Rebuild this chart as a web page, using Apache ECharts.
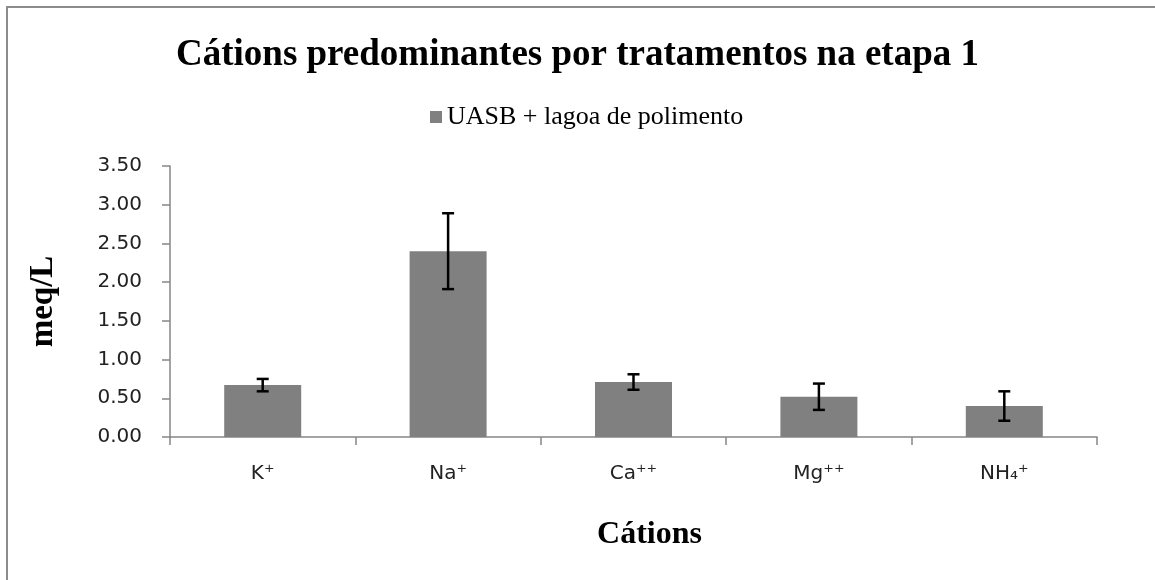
<!DOCTYPE html>
<html>
<head>
<meta charset="utf-8">
<script src="https://cdn.jsdelivr.net/npm/echarts@6/dist/echarts.min.js"></script>
<style>
  html, body { margin: 0; padding: 0; background: #fff; }
  #chart { width: 1155px; height: 580px; }
</style>
</head>
<body>
<div id="chart"></div>
<script>
// cations on the x axis
const cations = ['K⁺', 'Na⁺', 'Ca⁺⁺', 'Mg⁺⁺', 'NH₄⁺']
// mean values (meq/L)
const meanValues = [0.67, 2.40, 0.71, 0.52, 0.40]
// half length of the error bars
const errValues = [0.08, 0.49, 0.10, 0.17, 0.19]
const seriesName = 'UASB + lagoa de polimento'

const chart = echarts.init(document.getElementById('chart'))

// error bar data: [index, low, high]
const errData = meanValues.map((v, i) => [i, v - errValues[i], v + errValues[i]])

chart.setOption({
  animation: false,
  backgroundColor: '#fff',
  graphic: [
    {
      type: 'rect',
      shape: { x: 7, y: 7, width: 1200, height: 620 },
      style: { fill: 'none', stroke: '#8c8c8c', lineWidth: 2 },
      silent: true
    }
  ],
  title: {
    text: 'Cátions predominantes por tratamentos na etapa 1',
    left: 'center',
    top: 32,
    textStyle: {
      fontFamily: 'Liberation Serif',
      fontWeight: 'bold',
      fontSize: 37,
      color: '#000'
    }
  },
  legend: {
    data: [seriesName],
    left: 425,
    top: 99,
    icon: 'rect',
    itemWidth: 12,
    itemHeight: 12,
    itemGap: 6,
    textStyle: {
      fontFamily: 'Liberation Serif',
      fontSize: 26,
      color: '#000'
    }
  },
  grid: {
    left: 170,
    right: 58,
    top: 166,
    bottom: 143
  },
  xAxis: {
    type: 'category',
    data: cations,
    name: 'Cátions',
    nameLocation: 'middle',
    nameGap: 82,
    nameTextStyle: {
      fontFamily: 'Liberation Serif',
      fontWeight: 'bold',
      fontSize: 32,
      color: '#000',
      padding: [0, 0, 0, 32]
    },
    axisLine: { lineStyle: { color: '#868686', width: 1.5 } },
    axisTick: { show: true, length: 8, lineStyle: { color: '#868686', width: 1.5 } },
    axisLabel: {
      margin: 27,
      fontFamily: 'DejaVu Sans',
      fontSize: 20,
      color: '#222'
    }
  },
  yAxis: {
    type: 'value',
    min: 0,
    max: 3.5,
    interval: 0.5,
    name: 'meq/L',
    nameLocation: 'middle',
    nameGap: 110,
    nameRotate: 90,
    nameTextStyle: {
      fontFamily: 'Liberation Serif',
      fontWeight: 'bold',
      fontSize: 33,
      color: '#000'
    },
    splitLine: { show: false },
    axisLine: { show: true, lineStyle: { color: '#868686', width: 1.5 } },
    axisTick: { show: true, length: 8, lineStyle: { color: '#868686', width: 1.5 } },
    axisLabel: {
      margin: 28,
      fontFamily: 'DejaVu Sans',
      fontSize: 20,
      color: '#222',
      formatter: v => v.toFixed(2)
    }
  },
  series: [
    {
      name: seriesName,
      type: 'bar',
      data: meanValues,
      barWidth: 77,
      itemStyle: { color: '#808080' }
    },
    {
      name: 'erro',
      type: 'custom',
      data: errData,
      z: 10,
      renderItem: function (params, api) {
        const x = api.value(0)
        const low = api.coord([x, api.value(1)])
        const high = api.coord([x, api.value(2)])
        const half = 6
        const style = { stroke: '#000', lineWidth: 2.5 }
        return {
          type: 'group',
          children: [
            { type: 'line', shape: { x1: low[0], y1: high[1], x2: low[0], y2: low[1] }, style: style },
            { type: 'line', shape: { x1: low[0] - half, y1: high[1], x2: low[0] + half, y2: high[1] }, style: style },
            { type: 'line', shape: { x1: low[0] - half, y1: low[1], x2: low[0] + half, y2: low[1] }, style: style }
          ]
        }
      }
    }
  ]
})
</script>
</body>
</html>
